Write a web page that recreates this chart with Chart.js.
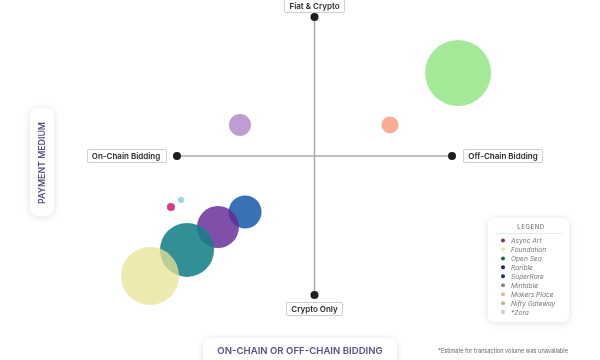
<!DOCTYPE html>
<html>
<head>
<meta charset="utf-8">
<script src="https://cdn.jsdelivr.net/npm/chart.js@4"></script>
<style>
html,body{margin:0;padding:0;background:#fff;}
#wrap{width:600px;height:360px;position:relative;}
</style>
</head>
<body>
<div id="wrap"><canvas id="c"></canvas></div>
<script>
// ---- data ----
const platforms = ['Async Art','Foundation','Open Sea','Rarible','SuperRare','Mintable','Makers Place','Nifty Gateway','*Zora'];
const bidding   = [-1.044, -1.196, -0.927, -0.702, -0.505, -0.542, 0.549, 1.044, -0.971]; // -1 on-chain .. +1 off-chain
const payment   = [-0.367, -0.863, -0.676, -0.511, -0.403, 0.223, 0.223, 0.597, -0.317];  // -1 crypto only .. +1 fiat & crypto
const volume    = [4, 29, 27, 21, 16.5, 11, 8.5, 33, 3];
const colors    = ['rgba(212,40,122,0.9)','rgba(232,226,150,0.75)','rgba(20,128,134,0.88)','rgba(100,40,150,0.82)','rgba(30,95,170,0.88)','rgba(180,140,205,0.85)','rgba(245,165,135,0.9)','rgba(140,228,125,0.8)','rgba(135,205,225,0.85)'];
const legendColors = ['#8a2a60','#efe7a0','#1d6466','#3b1d4a','#1b3550','#8f8098','#e6b59c','#b7b895','#b9d3cc'];
const xLabels = ['On-Chain Bidding','Off-Chain Bidding'];
const yLabels = ['Crypto Only','Fiat & Crypto'];
const xTitle = 'ON-CHAIN OR OFF-CHAIN BIDDING';
const yTitle = 'PAYMENT MEDIUM';
const legendTitle = 'LEGEND';
const footnote = '*Estimate for transaction volume was unavailable';

const FONT = 'Inter, "Open Sans", sans-serif';

function roundRect(ctx,x,y,w,h,r){
  ctx.beginPath();
  ctx.moveTo(x+r,y);
  ctx.lineTo(x+w-r,y);ctx.quadraticCurveTo(x+w,y,x+w,y+r);
  ctx.lineTo(x+w,y+h-r);ctx.quadraticCurveTo(x+w,y+h,x+w-r,y+h);
  ctx.lineTo(x+r,y+h);ctx.quadraticCurveTo(x,y+h,x,y+h-r);
  ctx.lineTo(x,y+r);ctx.quadraticCurveTo(x,y,x+r,y);
  ctx.closePath();
}
function labelBox(ctx,text,cx,cy){
  ctx.save();
  ctx.font = '600 8px '+FONT;
  const w = ctx.measureText(text).width + 10, h = 13;
  ctx.fillStyle='#fff';
  ctx.strokeStyle='#cfcfcf';ctx.lineWidth=1;
  roundRect(ctx,Math.round(cx-w/2)+0.5,Math.round(cy-h/2)+0.5,Math.round(w),h,1.5);
  ctx.fill();ctx.stroke();
  ctx.fillStyle='#2a2a2a';ctx.textAlign='center';ctx.textBaseline='middle';
  ctx.fillText(text,cx,cy+0.5);
  ctx.restore();
}
function shadowBox(ctx,x,y,w,h,r){
  ctx.save();
  ctx.shadowColor='rgba(0,0,0,0.12)';ctx.shadowBlur=8;ctx.shadowOffsetY=1;
  ctx.fillStyle='#fff';
  roundRect(ctx,x,y,w,h,r);ctx.fill();
  ctx.restore();
}

const crosshair = {
  id:'crosshair',
  beforeDatasetsDraw(chart){
    const ctx=chart.ctx, xs=chart.scales.x, ys=chart.scales.y;
    const x0=xs.getPixelForValue(0), y0=ys.getPixelForValue(0);
    const xl=xs.getPixelForValue(-1), xr=xs.getPixelForValue(1);
    const yb=ys.getPixelForValue(-1), yt=ys.getPixelForValue(1);
    ctx.save();
    ctx.strokeStyle='#a8a8a8';ctx.lineWidth=1.4;
    ctx.beginPath();ctx.moveTo(xl,y0);ctx.lineTo(xr,y0);ctx.moveTo(x0,yt);ctx.lineTo(x0,yb);ctx.stroke();
    ctx.fillStyle='#1e1e1e';
    [[xl,y0],[xr,y0],[x0,yt],[x0,yb]].forEach(p=>{ctx.beginPath();ctx.arc(p[0],p[1],4,0,Math.PI*2);ctx.fill();});
    ctx.restore();
    labelBox(ctx,xLabels[0],xl-51,y0);
    labelBox(ctx,xLabels[1],xr+51,y0);
    labelBox(ctx,yLabels[1],x0,yt-11);
    labelBox(ctx,yLabels[0],x0,yb+14);
  },
  afterDatasetsDraw(chart){
    const ctx=chart.ctx;
    // x title
    shadowBox(ctx,203,338,194,34,9);
    ctx.save();
    ctx.font='600 9.6px '+FONT;ctx.fillStyle='#5b4f86';ctx.textAlign='center';ctx.textBaseline='middle';
    ctx.fillText(xTitle,300,351);
    ctx.restore();
    // y title
    shadowBox(ctx,30,108,24,108,9);
    ctx.save();
    ctx.translate(42,163);ctx.rotate(-Math.PI/2);
    ctx.font='600 8.8px '+FONT;ctx.fillStyle='#5b4f86';ctx.textAlign='center';ctx.textBaseline='middle';
    ctx.fillText(yTitle,0,0);
    ctx.restore();
    // footnote
    ctx.save();
    ctx.font='5.6px '+FONT;ctx.fillStyle='#666';ctx.textAlign='center';ctx.textBaseline='middle';
    ctx.fillText(footnote,503,351);
    ctx.restore();
    // legend
    shadowBox(ctx,488,218,81,104,7);
    ctx.save();
    ctx.font='6px '+FONT;ctx.fillStyle='#666';ctx.textAlign='center';ctx.textBaseline='middle';
    if (ctx.letterSpacing!==undefined) ctx.letterSpacing='0.6px';
    ctx.fillText(legendTitle,531,227);
    if (ctx.letterSpacing!==undefined) ctx.letterSpacing='0px';
    ctx.strokeStyle='#e2e2e2';ctx.lineWidth=0.8;
    ctx.beginPath();ctx.moveTo(495,233.5);ctx.lineTo(563,233.5);ctx.stroke();
    ctx.font='italic 6.6px '+FONT;ctx.textAlign='left';
    platforms.forEach((p,i)=>{
      const y=240.5+i*8.95;
      ctx.fillStyle=legendColors[i];
      ctx.beginPath();ctx.arc(503,y,2,0,Math.PI*2);ctx.fill();
      ctx.fillStyle='#777';
      ctx.fillText(p,511,y+0.5);
    });
    ctx.restore();
  }
};

const datasets = platforms.map((p,i)=>({
  label:p,
  data:[{x:bidding[i],y:payment[i],r:volume[i]}],
  backgroundColor:colors[i],
  borderWidth:0,
  hoverRadius:0,
  clip:false
}));

new Chart(document.getElementById('c'),{
  type:'bubble',
  data:{datasets},
  options:{
    responsive:true,maintainAspectRatio:false,animation:false,
    layout:{padding:0,autoPadding:false},
    scales:{
      x:{type:'linear',min:-2.287,max:2.076,display:false},
      y:{type:'linear',min:-1.468,max:1.122,display:false}
    },
    plugins:{legend:{display:false},tooltip:{enabled:false}},
    events:[]
  },
  plugins:[crosshair]
});
</script>
</body>
</html>
